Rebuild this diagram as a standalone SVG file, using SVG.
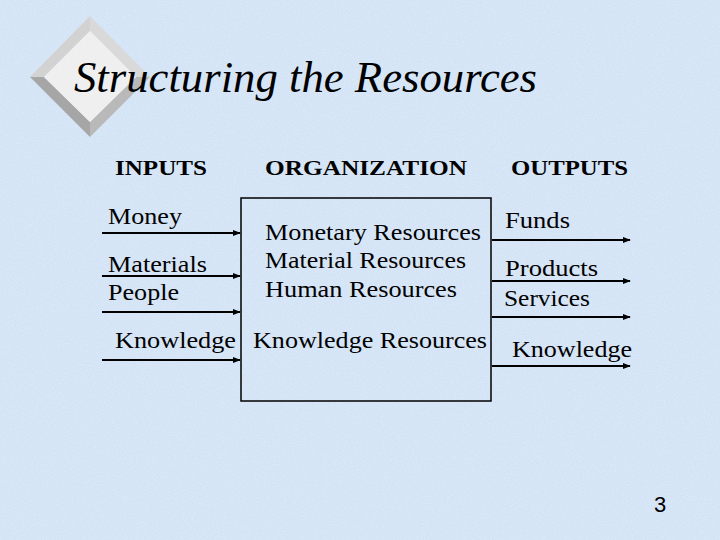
<svg xmlns="http://www.w3.org/2000/svg" width="720" height="540" viewBox="0 0 720 540">
  <defs>
    <style>
      .lbl { font-family: "Liberation Serif", "Times New Roman", serif; font-size: 24px; fill: #000; }
      .hdr { font-family: "Liberation Serif", "Times New Roman", serif; font-size: 20px; font-weight: bold; fill: #000; }
      .title { font-family: "Liberation Serif", "Times New Roman", serif; font-size: 44px; font-style: italic; fill: #000; }
      .arrow { stroke: #000; stroke-width: 2; fill: none; marker-end: url(#head); }
    </style>
    <marker id="head" viewBox="0 0 10 10" refX="9" refY="5" markerWidth="4" markerHeight="4" orient="auto" markerUnits="strokeWidth">
      <path d="M0,1 L10,5 L0,9 z" fill="#000"/>
    </marker>
    <filter id="tex" x="0" y="0" width="100%" height="100%">
      <feTurbulence type="fractalNoise" baseFrequency="0.9" numOctaves="2" seed="3" result="n"/>
      <feColorMatrix in="n" type="matrix" values="0 0 0 0 1  0 0 0 0 1  0 0 0 0 1  0 0 0 0.35 -0.05" result="w"/>
      <feComposite in="w" in2="SourceGraphic" operator="over"/>
    </filter>
  </defs>

  <rect x="0" y="0" width="720" height="540" fill="#cfe1f5" filter="url(#tex)"/>

  <g id="diamond">
    <polygon points="90,16 150,77 136,77 90,31" fill="#d9d9d9"/>
    <polygon points="90,16 90,31 44,77 30,77" fill="#d2d2d2"/>
    <polygon points="30,77 44,77 90,122 90,137" fill="#a6a6a6"/>
    <polygon points="90,137 90,122 136,77 150,77" fill="#b9b9b9"/>
    <polygon points="90,31 136,77 90,122 44,77" fill="#efefef"/>
  </g>

  <g id="title">
    <text class="title" x="74" y="92" textLength="463" lengthAdjust="spacingAndGlyphs">Structuring the Resources</text>
  </g>

  <g id="headers">
    <text class="hdr" x="115" y="175" textLength="92" lengthAdjust="spacingAndGlyphs">INPUTS</text>
    <text class="hdr" x="265" y="175" textLength="202" lengthAdjust="spacingAndGlyphs">ORGANIZATION</text>
    <text class="hdr" x="511" y="175" textLength="117" lengthAdjust="spacingAndGlyphs">OUTPUTS</text>
  </g>

  <g id="organization">
    <rect x="241" y="198" width="250" height="203" fill="none" stroke="#000" stroke-width="1.5"/>
    <text class="lbl" x="265" y="240" textLength="216" lengthAdjust="spacingAndGlyphs">Monetary Resources</text>
    <text class="lbl" x="265" y="268" textLength="201" lengthAdjust="spacingAndGlyphs">Material Resources</text>
    <text class="lbl" x="265" y="297" textLength="192" lengthAdjust="spacingAndGlyphs">Human Resources</text>
    <text class="lbl" x="253" y="348" textLength="234" lengthAdjust="spacingAndGlyphs">Knowledge Resources</text>
  </g>

  <g id="inputs">
    <text class="lbl" x="108" y="224" textLength="74" lengthAdjust="spacingAndGlyphs">Money</text>
    <text class="lbl" x="108" y="272" textLength="99" lengthAdjust="spacingAndGlyphs">Materials</text>
    <text class="lbl" x="108" y="300" textLength="71" lengthAdjust="spacingAndGlyphs">People</text>
    <text class="lbl" x="115" y="348" textLength="121" lengthAdjust="spacingAndGlyphs">Knowledge</text>
  </g>

  <g id="outputs">
    <text class="lbl" x="505" y="228" textLength="65" lengthAdjust="spacingAndGlyphs">Funds</text>
    <text class="lbl" x="505" y="276" textLength="93" lengthAdjust="spacingAndGlyphs">Products</text>
    <text class="lbl" x="504" y="306" textLength="86" lengthAdjust="spacingAndGlyphs">Services</text>
    <text class="lbl" x="512" y="357" textLength="120" lengthAdjust="spacingAndGlyphs">Knowledge</text>
  </g>

  <g id="connectors">
    <line class="arrow" x1="102" y1="233" x2="240" y2="233"/>
    <line class="arrow" x1="102" y1="276" x2="240" y2="276"/>
    <line class="arrow" x1="102" y1="312" x2="240" y2="312"/>
    <line class="arrow" x1="102" y1="360" x2="240" y2="360"/>
    <line class="arrow" x1="492" y1="240" x2="630" y2="240"/>
    <line class="arrow" x1="492" y1="281" x2="630" y2="281"/>
    <line class="arrow" x1="492" y1="317" x2="630" y2="317"/>
    <line class="arrow" x1="492" y1="366" x2="630" y2="366"/>
  </g>

  <g id="page">
    <text class="lbl" x="654" y="512" font-family="Liberation Sans, Arial, sans-serif" style="font-family:'Liberation Sans', Arial, sans-serif; font-size:22px">3</text>
  </g>
</svg>
